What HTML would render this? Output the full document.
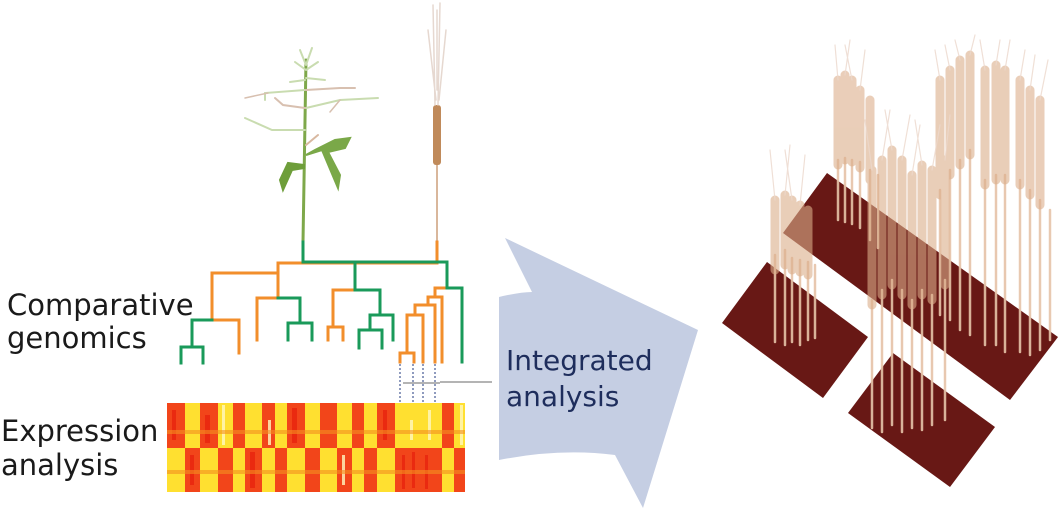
<!DOCTYPE html>
<html><head><meta charset="utf-8"><style>
html,body{margin:0;padding:0;background:#fff;width:1063px;height:512px;overflow:hidden}
svg{display:block}
text{font-family:"DejaVu Sans","Liberation Sans",sans-serif}
</style></head><body>
<svg width="1063" height="512" viewBox="0 0 1063 512" xmlns="http://www.w3.org/2000/svg">
<!-- arrow -->
<path d="M505,238 L698,330 L643,508 L615,455 Q560,448 499,460 L499,297 Q520,292 532,292 Z" fill="#c5cee3"/>
<line x1="440" y1="382" x2="492" y2="382" stroke="#888" stroke-width="1.2"/>
<text x="506" y="370" font-size="28" fill="#1e2d5c">Integrated</text>
<text x="506" y="406" font-size="28" fill="#1e2d5c">analysis</text>

<text x="7" y="315" font-size="29" fill="#1a1a1a">Comparative</text>
<text x="7" y="348" font-size="29" fill="#1a1a1a">genomics</text>
<text x="1" y="441" font-size="29" fill="#1a1a1a">Expression</text>
<text x="1" y="475" font-size="29" fill="#1a1a1a">analysis</text>

<!-- arabidopsis -->
<g stroke-linecap="round" fill="none">
<path d="M303,242 L306,60" stroke="#7ea84a" stroke-width="3"/>
<path d="M305,130 L272,130 L245,118" stroke="#c9dcb0" stroke-width="2"/>
<path d="M306,108 L340,100 L378,98" stroke="#c9dcb0" stroke-width="2"/>
<path d="M305,90 L265,93 L265,100" stroke="#c9dcb0" stroke-width="2"/>
<path d="M306,90 L340,88 L355,88" stroke="#d8c0b0" stroke-width="2"/>
<path d="M305,108 L283,105 L275,98" stroke="#d8c0b0" stroke-width="2"/>
<path d="M305,80 L290,82 M306,78 L325,80" stroke="#c9dcb0" stroke-width="2"/>
<path d="M306,70 L295,62 M306,70 L318,62 M306,65 L300,50 M306,65 L312,48" stroke="#c9dcb0" stroke-width="2"/>
<path d="M306,145 L318,135" stroke="#d8b8a0" stroke-width="2"/>
<path d="M304,165 L288,163 L280,180 L283,190 L292,170 L304,168 Z" fill="#6e9e3a" stroke="#6e9e3a" stroke-width="2"/>
<path d="M306,155 L322,150 L338,188 L340,175 L328,152 L345,148 L350,138 L335,140 L315,150 Z" fill="#7aa848" stroke="#7aa848" stroke-width="2"/>
<path d="M268,93 L245,98 M340,100 L330,112" stroke="#d8c0b0" stroke-width="1.5"/>
</g>
<!-- wheat single -->
<g stroke-linecap="round">
<line x1="437" y1="242" x2="437" y2="165" stroke="#d9b79c" stroke-width="2"/>
<rect x="433" y="105" width="8" height="60" rx="3" fill="#c08a5a"/>
<path d="M435,105 L433,5 M438,105 L440,3 M436,100 L428,30 M439,100 L446,30 M437,90 L437,10" stroke="#e6d8d0" stroke-width="1.5" fill="none"/>
</g>

<!-- tree -->
<g fill="none" stroke-width="3" stroke-linecap="square">
<g stroke="#f28e2b">
<path d="M437,242 V263 H278 V298 H257 V340"/>
<path d="M278,263 V273 H212 V320 H239 V353"/>
<path d="M355,290 H333 V327 H328 V340 M333,327 H343 V340"/>
<path d="M447,288 H435 V297 H428 V305 H415 V315 H407 V353 H400 V362 M407,353 H414 V362"/>
<path d="M428,297 H442 V362 M415,305 H435 V362 M407,315 H423 V362"/>
</g>
<g stroke="#1a9a5a">
<path d="M303,242 V262 H447 V288 H462 V362"/>
<path d="M212,320 H192 V347 H181 V363 M192,347 H203 V363"/>
<path d="M278,298 H300 V323 H288 V340 M300,323 H312 V340"/>
<path d="M355,262 V290 H380 V315 H370 V330 H359 V348 M370,330 H382 V348 M380,315 H393 V340"/>
</g>
</g>
<g stroke="#6a7aa8" stroke-width="1.5" stroke-dasharray="2,2">
<line x1="400" y1="364" x2="400" y2="402"/><line x1="413" y1="364" x2="413" y2="402"/>
<line x1="423" y1="364" x2="423" y2="402"/><line x1="435" y1="364" x2="435" y2="402"/>
</g>
<line x1="403" y1="383" x2="440" y2="383" stroke="#888" stroke-width="1.2"/>

<!-- heatmap -->
<g>
<rect x="167" y="403" width="298" height="89" fill="#ffe030"/>
<g fill="#f2451a">
<rect x="167" y="403" width="18" height="45"/><rect x="200" y="403" width="18" height="45"/>
<rect x="233" y="403" width="12" height="45"/><rect x="262" y="403" width="13" height="45"/>
<rect x="287" y="403" width="18" height="45"/><rect x="320" y="403" width="17" height="45"/>
<rect x="352" y="403" width="12" height="45"/><rect x="377" y="403" width="18" height="45"/>
<rect x="442" y="403" width="12" height="45"/>
<rect x="185" y="448" width="15" height="44"/><rect x="218" y="448" width="15" height="44"/>
<rect x="245" y="448" width="17" height="44"/><rect x="275" y="448" width="12" height="44"/>
<rect x="305" y="448" width="15" height="44"/><rect x="337" y="448" width="15" height="44"/>
<rect x="364" y="448" width="13" height="44"/><rect x="395" y="448" width="47" height="44"/>
<rect x="454" y="448" width="11" height="44"/>
</g>
<g fill="#e8200c" opacity="0.7">
<rect x="172" y="410" width="4" height="30"/><rect x="205" y="415" width="5" height="28"/><rect x="292" y="408" width="5" height="35"/>
<rect x="383" y="410" width="4" height="30"/><rect x="190" y="455" width="4" height="30"/><rect x="250" y="452" width="5" height="36"/>
<rect x="402" y="455" width="3" height="34"/><rect x="412" y="452" width="3" height="36"/><rect x="425" y="455" width="3" height="34"/>
</g>
<g fill="#fff8c0" opacity="0.8">
<rect x="222" y="405" width="3" height="40"/><rect x="268" y="420" width="3" height="25"/><rect x="410" y="420" width="3" height="20"/>
<rect x="428" y="410" width="3" height="30"/><rect x="342" y="455" width="3" height="30"/><rect x="460" y="405" width="3" height="40"/>
</g>
<g fill="#f59020" opacity="0.6">
<rect x="167" y="430" width="298" height="4"/><rect x="167" y="470" width="298" height="4"/>
</g>
</g>

<!-- wheat field plots -->
<g fill="#681815">
<polygon points="722,323 767,262 868,337 823,398"/>
<polygon points="827,173 1058,337 1010,400 783,233"/>
<polygon points="848,413 893,353 995,427 950,487"/>
</g>
<g stroke-linecap="round" fill="none">
<g stroke="#e6c3a8" stroke-width="2.5" opacity="0.9">
<path d="M775,342 V255 M785,345 V250 M792,342 V258 M800,345 V260 M808,340 V262 M815,338 V265"/>
<path d="M838,220 V160 M845,222 V158 M852,224 V160 M860,228 V162 M870,240 V170 M878,248 V175"/>
<path d="M872,428 V300 M882,432 V290 M892,425 V280 M902,432 V290 M912,428 V300 M922,430 V290 M932,425 V295 M945,420 V280"/>
<path d="M985,345 V180 M996,345 V175 M1005,352 V175 M1020,352 V180 M1030,355 V190 M1040,350 V200 M1050,340 V210"/>
<path d="M960,330 V160 M970,335 V150 M950,320 V170 M940,315 V190"/>
</g>
<g stroke="#dcae8a" stroke-width="9" opacity="0.6">
<path d="M775,270 V200 M785,265 V195 M792,270 V200 M800,272 V205 M808,275 V210"/>
<path d="M838,165 V80 M845,160 V75 M852,162 V80 M860,168 V90 M870,180 V100"/>
<path d="M872,305 V170 M882,295 V160 M892,285 V150 M902,295 V160 M912,305 V175 M922,295 V165 M932,300 V170 M945,285 V160"/>
<path d="M985,185 V70 M996,180 V65 M1005,180 V70 M1020,185 V80 M1030,195 V90 M1040,205 V100"/>
<path d="M960,165 V60 M970,155 V55 M950,175 V70 M940,195 V80"/>
</g>
<g stroke="#ecd8cc" stroke-width="1.2" opacity="0.8">
<path d="M775,200 L770,150 M785,195 L790,145 M800,205 L805,155 M792,200 L785,150"/>
<path d="M838,80 L835,45 M845,75 L850,40 M860,90 L865,50 M852,80 L845,45"/>
<path d="M872,170 L865,120 M882,160 L890,110 M892,150 L885,110 M902,160 L910,115 M912,175 L920,125 M922,165 L915,120 M932,170 L940,125 M945,160 L950,115"/>
<path d="M985,70 L980,40 M996,65 L1000,40 M1005,70 L1010,40 M1020,80 L1025,50 M1030,90 L1035,55 M1040,100 L1048,60"/>
<path d="M960,60 L955,40 M970,55 L975,35 M950,70 L945,45 M940,80 L935,50"/>
</g>
</g>
</svg>
</body></html>
